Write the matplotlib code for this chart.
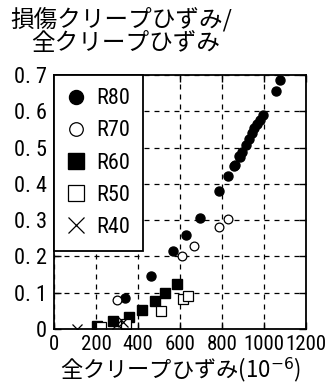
import matplotlib
matplotlib.use('Agg')
from matplotlib import pyplot as plt
from matplotlib.ticker import FixedLocator, FixedFormatter

plt.rcParams['font.family'] = ['Noto Sans CJK JP', 'DejaVu Sans']
NUM_FONT = ['Roboto Condensed', 'Roboto', 'DejaVu Sans']

# total creep strain (1e-6) vs. damage / total creep strain ratio
r80_x = [340, 462, 565, 630, 694, 786, 827, 859, 862, 881, 886, 894, 913,
         929, 941, 954, 968, 981, 997, 1056, 1078]
r80_y = [0.085, 0.147, 0.214, 0.258, 0.307, 0.381, 0.421, 0.450, 0.452,
         0.477, 0.475, 0.488, 0.507, 0.523, 0.539, 0.553, 0.565, 0.576,
         0.590, 0.655, 0.685]
r70_x = [300, 611, 668, 786, 827]
r70_y = [0.080, 0.202, 0.229, 0.282, 0.302]
r60_x = [207, 281, 357, 419, 483, 529, 584]
r60_y = [0.008, 0.021, 0.034, 0.052, 0.076, 0.098, 0.124]
r50_x = [225, 345, 508, 613, 638]
r50_y = [0.006, 0.014, 0.049, 0.082, 0.090]
r40_x = [108, 300, 330]
r40_y = [0.0, 0.015, 0.020]

xticks = [0, 200, 400, 600, 800, 1000, 1200]
yticks = [0, 0.1, 0.2, 0.3, 0.4, 0.5, 0.6, 0.7]
ytick_labels = ['0', '0. 1', '0. 2', '0. 3', '0. 4', '0. 5', '0. 6', '0. 7']

fig = plt.figure(figsize=(3.3, 3.87), dpi=100)
ax = fig.add_axes([0.1636, 0.1499, 0.7637, 0.6563])

ax.plot(r80_x, r80_y, 'o', color='black', markersize=6.5, label='R80',
        linestyle='none')
ax.plot(r70_x, r70_y, 'o', markerfacecolor='white', markeredgecolor='black',
        markersize=6.3, markeredgewidth=0.9, label='R70', linestyle='none')
ax.plot(r60_x, r60_y, 's', color='black', markersize=7, label='R60',
        linestyle='none')
ax.plot(r50_x, r50_y, 's', markerfacecolor='white', markeredgecolor='black',
        markersize=7, markeredgewidth=0.9, label='R50', linestyle='none')
ax.plot(r40_x, r40_y, 'x', color='black', markersize=7, markeredgewidth=0.9,
        label='R40', linestyle='none')

ax.set_xlim(0, 1200)
ax.set_ylim(0, 0.7)
ax.xaxis.set_major_locator(FixedLocator(xticks))
ax.yaxis.set_major_locator(FixedLocator(yticks))
ax.yaxis.set_major_formatter(FixedFormatter(ytick_labels))
ax.tick_params(direction='in', length=5, width=1, top=True, right=True,
               labelsize=16)
ax.tick_params(axis='y', pad=5)
ax.tick_params(axis='x', pad=4, labelsize=15)
for lab in ax.get_xticklabels() + ax.get_yticklabels():
    lab.set_family(NUM_FONT)

ax.grid(True, color='black', linestyle=(0, (4, 4)), linewidth=0.9)
for sp in ax.spines.values():
    sp.set_linewidth(1.3)

leg = ax.legend(loc='upper left', bbox_to_anchor=(0.0, 1.0), frameon=True,
                fancybox=False, edgecolor='black', framealpha=1,
                borderaxespad=0, handlelength=0.8, handletextpad=0.5,
                labelspacing=0.5, borderpad=0.6, markerscale=1.55,
                prop={'family': NUM_FONT, 'size': 16})
leg.get_frame().set_linewidth(1.3)

fig.text(10 / 330, 1 - 7 / 387, '損傷クリープひずみ/', fontsize=17,
         va='top', ha='left')
fig.text(31 / 330, 1 - 32 / 387, '全クリープひずみ', fontsize=17,
         va='top', ha='left')
fig.text(0.548, 0.008, '全クリープひずみ(10$^{-6}$)', fontsize=16,
         ha='center', va='bottom')

fig.savefig('out.png', dpi=100)
